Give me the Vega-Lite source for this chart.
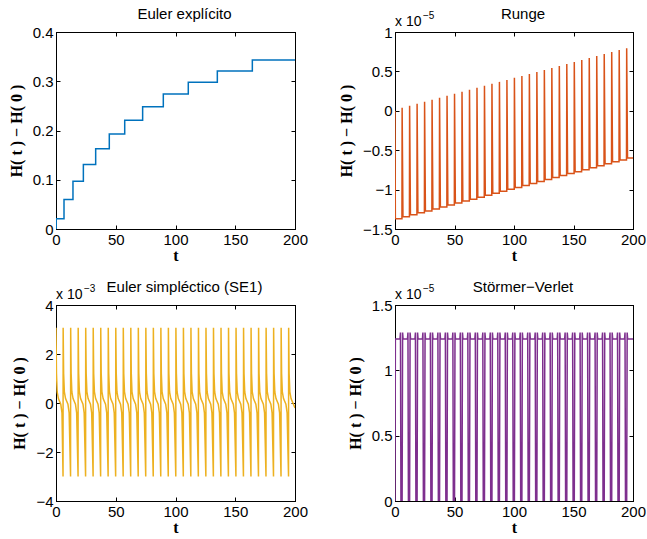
{
  "$schema": "https://vega.github.io/schema/vega-lite/v6.json",
  "padding": {"left": 7, "top": 6, "right": 5, "bottom": 5},
  "datasets": {
    "euler": [{"t":0,"v":0},{"t":0.2,"v":0.021},{"t":6.7,"v":0.06},{"t":14.2,"v":0.097},{"t":22.9,"v":0.131},{"t":33.2,"v":0.163},{"t":44.6,"v":0.193},{"t":57.5,"v":0.221},{"t":72.5,"v":0.248},{"t":89.8,"v":0.274},{"t":110.7,"v":0.298},{"t":135,"v":0.321},{"t":164.3,"v":0.343},{"t":200,"v":0.343}],
    "runge": [{"t":0,"v":0},{"t":0.3,"v":-1.37},
      {"t":5.84,"v":-1.37},{"t":5.99,"v":0.04},{"t":6.69,"v":-1.345},
      {"t":12.13,"v":-1.345},{"t":12.28,"v":0.065},{"t":12.98,"v":-1.32},
      {"t":18.42,"v":-1.32},{"t":18.57,"v":0.09},{"t":19.27,"v":-1.295},
      {"t":24.71,"v":-1.295},{"t":24.86,"v":0.116},{"t":25.56,"v":-1.27},
      {"t":31.0,"v":-1.27},{"t":31.15,"v":0.141},{"t":31.85,"v":-1.246},
      {"t":37.29,"v":-1.246},{"t":37.44,"v":0.166},{"t":38.14,"v":-1.221},
      {"t":43.58,"v":-1.221},{"t":43.73,"v":0.191},{"t":44.43,"v":-1.196},
      {"t":49.87,"v":-1.196},{"t":50.02,"v":0.216},{"t":50.72,"v":-1.171},
      {"t":56.16,"v":-1.171},{"t":56.31,"v":0.241},{"t":57.01,"v":-1.146},
      {"t":62.45,"v":-1.146},{"t":62.6,"v":0.267},{"t":63.3,"v":-1.121},
      {"t":68.74,"v":-1.121},{"t":68.89,"v":0.292},{"t":69.59,"v":-1.096},
      {"t":75.03,"v":-1.096},{"t":75.18,"v":0.317},{"t":75.88,"v":-1.071},
      {"t":81.32,"v":-1.071},{"t":81.47,"v":0.342},{"t":82.17,"v":-1.046},
      {"t":87.61,"v":-1.046},{"t":87.76,"v":0.367},{"t":88.46,"v":-1.021},
      {"t":93.9,"v":-1.021},{"t":94.05,"v":0.392},{"t":94.75,"v":-0.997},
      {"t":100.19,"v":-0.997},{"t":100.34,"v":0.418},{"t":101.04,"v":-0.972},
      {"t":106.48,"v":-0.972},{"t":106.63,"v":0.443},{"t":107.33,"v":-0.947},
      {"t":112.77,"v":-0.947},{"t":112.92,"v":0.468},{"t":113.62,"v":-0.922},
      {"t":119.06,"v":-0.922},{"t":119.21,"v":0.493},{"t":119.91,"v":-0.897},
      {"t":125.35,"v":-0.897},{"t":125.5,"v":0.518},{"t":126.2,"v":-0.872},
      {"t":131.64,"v":-0.872},{"t":131.79,"v":0.543},{"t":132.49,"v":-0.847},
      {"t":137.93,"v":-0.847},{"t":138.08,"v":0.569},{"t":138.78,"v":-0.822},
      {"t":144.22,"v":-0.822},{"t":144.37,"v":0.594},{"t":145.07,"v":-0.797},
      {"t":150.51,"v":-0.797},{"t":150.66,"v":0.619},{"t":151.36,"v":-0.772},
      {"t":156.8,"v":-0.772},{"t":156.95,"v":0.644},{"t":157.65,"v":-0.748},
      {"t":163.09,"v":-0.748},{"t":163.24,"v":0.669},{"t":163.94,"v":-0.723},
      {"t":169.38,"v":-0.723},{"t":169.53,"v":0.694},{"t":170.23,"v":-0.698},
      {"t":175.67,"v":-0.698},{"t":175.82,"v":0.72},{"t":176.52,"v":-0.673},
      {"t":181.96,"v":-0.673},{"t":182.11,"v":0.745},{"t":182.81,"v":-0.648},
      {"t":188.25,"v":-0.648},{"t":188.4,"v":0.77},{"t":189.1,"v":-0.623},
      {"t":194.54,"v":-0.623},{"t":194.69,"v":0.795},{"t":195.39,"v":-0.598},
      {"t":200,"v":-0.598}],
    "se1": [{"t":0,"v":3.07},{"t":0.4,"v":1.2},{"t":1,"v":0.45},{"t":2,"v":0.18},{"t":4,"v":-0.05},{"t":5,"v":-0.4},
      {"t":5.89,"v":-3},{"t":5.99,"v":3.07},{"t":6.39,"v":1.2},{"t":6.99,"v":0.45},{"t":7.99,"v":0.18},{"t":9.99,"v":-0.05},{"t":10.99,"v":-0.4},
      {"t":12.18,"v":-3},{"t":12.28,"v":3.07},{"t":12.68,"v":1.2},{"t":13.28,"v":0.45},{"t":14.28,"v":0.18},{"t":16.28,"v":-0.05},{"t":17.28,"v":-0.4},
      {"t":18.47,"v":-3},{"t":18.57,"v":3.07},{"t":18.97,"v":1.2},{"t":19.57,"v":0.45},{"t":20.57,"v":0.18},{"t":22.57,"v":-0.05},{"t":23.57,"v":-0.4},
      {"t":24.76,"v":-3},{"t":24.86,"v":3.07},{"t":25.26,"v":1.2},{"t":25.86,"v":0.45},{"t":26.86,"v":0.18},{"t":28.86,"v":-0.05},{"t":29.86,"v":-0.4},
      {"t":31.05,"v":-3},{"t":31.15,"v":3.07},{"t":31.55,"v":1.2},{"t":32.15,"v":0.45},{"t":33.15,"v":0.18},{"t":35.15,"v":-0.05},{"t":36.15,"v":-0.4},
      {"t":37.34,"v":-3},{"t":37.44,"v":3.07},{"t":37.84,"v":1.2},{"t":38.44,"v":0.45},{"t":39.44,"v":0.18},{"t":41.44,"v":-0.05},{"t":42.44,"v":-0.4},
      {"t":43.63,"v":-3},{"t":43.73,"v":3.07},{"t":44.13,"v":1.2},{"t":44.73,"v":0.45},{"t":45.73,"v":0.18},{"t":47.73,"v":-0.05},{"t":48.73,"v":-0.4},
      {"t":49.92,"v":-3},{"t":50.02,"v":3.07},{"t":50.42,"v":1.2},{"t":51.02,"v":0.45},{"t":52.02,"v":0.18},{"t":54.02,"v":-0.05},{"t":55.02,"v":-0.4},
      {"t":56.21,"v":-3},{"t":56.31,"v":3.07},{"t":56.71,"v":1.2},{"t":57.31,"v":0.45},{"t":58.31,"v":0.18},{"t":60.31,"v":-0.05},{"t":61.31,"v":-0.4},
      {"t":62.5,"v":-3},{"t":62.6,"v":3.07},{"t":63.0,"v":1.2},{"t":63.6,"v":0.45},{"t":64.6,"v":0.18},{"t":66.6,"v":-0.05},{"t":67.6,"v":-0.4},
      {"t":68.79,"v":-3},{"t":68.89,"v":3.07},{"t":69.29,"v":1.2},{"t":69.89,"v":0.45},{"t":70.89,"v":0.18},{"t":72.89,"v":-0.05},{"t":73.89,"v":-0.4},
      {"t":75.08,"v":-3},{"t":75.18,"v":3.07},{"t":75.58,"v":1.2},{"t":76.18,"v":0.45},{"t":77.18,"v":0.18},{"t":79.18,"v":-0.05},{"t":80.18,"v":-0.4},
      {"t":81.37,"v":-3},{"t":81.47,"v":3.07},{"t":81.87,"v":1.2},{"t":82.47,"v":0.45},{"t":83.47,"v":0.18},{"t":85.47,"v":-0.05},{"t":86.47,"v":-0.4},
      {"t":87.66,"v":-3},{"t":87.76,"v":3.07},{"t":88.16,"v":1.2},{"t":88.76,"v":0.45},{"t":89.76,"v":0.18},{"t":91.76,"v":-0.05},{"t":92.76,"v":-0.4},
      {"t":93.95,"v":-3},{"t":94.05,"v":3.07},{"t":94.45,"v":1.2},{"t":95.05,"v":0.45},{"t":96.05,"v":0.18},{"t":98.05,"v":-0.05},{"t":99.05,"v":-0.4},
      {"t":100.24,"v":-3},{"t":100.34,"v":3.07},{"t":100.74,"v":1.2},{"t":101.34,"v":0.45},{"t":102.34,"v":0.18},{"t":104.34,"v":-0.05},{"t":105.34,"v":-0.4},
      {"t":106.53,"v":-3},{"t":106.63,"v":3.07},{"t":107.03,"v":1.2},{"t":107.63,"v":0.45},{"t":108.63,"v":0.18},{"t":110.63,"v":-0.05},{"t":111.63,"v":-0.4},
      {"t":112.82,"v":-3},{"t":112.92,"v":3.07},{"t":113.32,"v":1.2},{"t":113.92,"v":0.45},{"t":114.92,"v":0.18},{"t":116.92,"v":-0.05},{"t":117.92,"v":-0.4},
      {"t":119.11,"v":-3},{"t":119.21,"v":3.07},{"t":119.61,"v":1.2},{"t":120.21,"v":0.45},{"t":121.21,"v":0.18},{"t":123.21,"v":-0.05},{"t":124.21,"v":-0.4},
      {"t":125.4,"v":-3},{"t":125.5,"v":3.07},{"t":125.9,"v":1.2},{"t":126.5,"v":0.45},{"t":127.5,"v":0.18},{"t":129.5,"v":-0.05},{"t":130.5,"v":-0.4},
      {"t":131.69,"v":-3},{"t":131.79,"v":3.07},{"t":132.19,"v":1.2},{"t":132.79,"v":0.45},{"t":133.79,"v":0.18},{"t":135.79,"v":-0.05},{"t":136.79,"v":-0.4},
      {"t":137.98,"v":-3},{"t":138.08,"v":3.07},{"t":138.48,"v":1.2},{"t":139.08,"v":0.45},{"t":140.08,"v":0.18},{"t":142.08,"v":-0.05},{"t":143.08,"v":-0.4},
      {"t":144.27,"v":-3},{"t":144.37,"v":3.07},{"t":144.77,"v":1.2},{"t":145.37,"v":0.45},{"t":146.37,"v":0.18},{"t":148.37,"v":-0.05},{"t":149.37,"v":-0.4},
      {"t":150.56,"v":-3},{"t":150.66,"v":3.07},{"t":151.06,"v":1.2},{"t":151.66,"v":0.45},{"t":152.66,"v":0.18},{"t":154.66,"v":-0.05},{"t":155.66,"v":-0.4},
      {"t":156.85,"v":-3},{"t":156.95,"v":3.07},{"t":157.35,"v":1.2},{"t":157.95,"v":0.45},{"t":158.95,"v":0.18},{"t":160.95,"v":-0.05},{"t":161.95,"v":-0.4},
      {"t":163.14,"v":-3},{"t":163.24,"v":3.07},{"t":163.64,"v":1.2},{"t":164.24,"v":0.45},{"t":165.24,"v":0.18},{"t":167.24,"v":-0.05},{"t":168.24,"v":-0.4},
      {"t":169.43,"v":-3},{"t":169.53,"v":3.07},{"t":169.93,"v":1.2},{"t":170.53,"v":0.45},{"t":171.53,"v":0.18},{"t":173.53,"v":-0.05},{"t":174.53,"v":-0.4},
      {"t":175.72,"v":-3},{"t":175.82,"v":3.07},{"t":176.22,"v":1.2},{"t":176.82,"v":0.45},{"t":177.82,"v":0.18},{"t":179.82,"v":-0.05},{"t":180.82,"v":-0.4},
      {"t":182.01,"v":-3},{"t":182.11,"v":3.07},{"t":182.51,"v":1.2},{"t":183.11,"v":0.45},{"t":184.11,"v":0.18},{"t":186.11,"v":-0.05},{"t":187.11,"v":-0.4},
      {"t":188.3,"v":-3},{"t":188.4,"v":3.07},{"t":188.8,"v":1.2},{"t":189.4,"v":0.45},{"t":190.4,"v":0.18},{"t":192.4,"v":-0.05},{"t":193.4,"v":-0.4},
      {"t":194.59,"v":-3},{"t":194.69,"v":3.07},{"t":195.09,"v":1.2},{"t":195.69,"v":0.45},{"t":196.69,"v":0.18},{"t":198.69,"v":-0.05},{"t":200,"v":-0.2}],
    "sv": [{"t":0,"v":0},{"t":0.3,"v":1.24},
      {"t":4.19,"v":1.24},{"t":4.59,"v":1.29},{"t":4.99,"v":0},{"t":5.99,"v":0},{"t":6.39,"v":1.29},{"t":6.79,"v":1.24},
      {"t":10.48,"v":1.24},{"t":10.88,"v":1.29},{"t":11.28,"v":0},{"t":12.28,"v":0},{"t":12.68,"v":1.29},{"t":13.08,"v":1.24},
      {"t":16.77,"v":1.24},{"t":17.17,"v":1.29},{"t":17.57,"v":0},{"t":18.57,"v":0},{"t":18.97,"v":1.29},{"t":19.37,"v":1.24},
      {"t":23.06,"v":1.24},{"t":23.46,"v":1.29},{"t":23.86,"v":0},{"t":24.86,"v":0},{"t":25.26,"v":1.29},{"t":25.66,"v":1.24},
      {"t":29.35,"v":1.24},{"t":29.75,"v":1.29},{"t":30.15,"v":0},{"t":31.15,"v":0},{"t":31.55,"v":1.29},{"t":31.95,"v":1.24},
      {"t":35.64,"v":1.24},{"t":36.04,"v":1.29},{"t":36.44,"v":0},{"t":37.44,"v":0},{"t":37.84,"v":1.29},{"t":38.24,"v":1.24},
      {"t":41.93,"v":1.24},{"t":42.33,"v":1.29},{"t":42.73,"v":0},{"t":43.73,"v":0},{"t":44.13,"v":1.29},{"t":44.53,"v":1.24},
      {"t":48.22,"v":1.24},{"t":48.62,"v":1.29},{"t":49.02,"v":0},{"t":50.02,"v":0},{"t":50.42,"v":1.29},{"t":50.82,"v":1.24},
      {"t":54.51,"v":1.24},{"t":54.91,"v":1.29},{"t":55.31,"v":0},{"t":56.31,"v":0},{"t":56.71,"v":1.29},{"t":57.11,"v":1.24},
      {"t":60.8,"v":1.24},{"t":61.2,"v":1.29},{"t":61.6,"v":0},{"t":62.6,"v":0},{"t":63.0,"v":1.29},{"t":63.4,"v":1.24},
      {"t":67.09,"v":1.24},{"t":67.49,"v":1.29},{"t":67.89,"v":0},{"t":68.89,"v":0},{"t":69.29,"v":1.29},{"t":69.69,"v":1.24},
      {"t":73.38,"v":1.24},{"t":73.78,"v":1.29},{"t":74.18,"v":0},{"t":75.18,"v":0},{"t":75.58,"v":1.29},{"t":75.98,"v":1.24},
      {"t":79.67,"v":1.24},{"t":80.07,"v":1.29},{"t":80.47,"v":0},{"t":81.47,"v":0},{"t":81.87,"v":1.29},{"t":82.27,"v":1.24},
      {"t":85.96,"v":1.24},{"t":86.36,"v":1.29},{"t":86.76,"v":0},{"t":87.76,"v":0},{"t":88.16,"v":1.29},{"t":88.56,"v":1.24},
      {"t":92.25,"v":1.24},{"t":92.65,"v":1.29},{"t":93.05,"v":0},{"t":94.05,"v":0},{"t":94.45,"v":1.29},{"t":94.85,"v":1.24},
      {"t":98.54,"v":1.24},{"t":98.94,"v":1.29},{"t":99.34,"v":0},{"t":100.34,"v":0},{"t":100.74,"v":1.29},{"t":101.14,"v":1.24},
      {"t":104.83,"v":1.24},{"t":105.23,"v":1.29},{"t":105.63,"v":0},{"t":106.63,"v":0},{"t":107.03,"v":1.29},{"t":107.43,"v":1.24},
      {"t":111.12,"v":1.24},{"t":111.52,"v":1.29},{"t":111.92,"v":0},{"t":112.92,"v":0},{"t":113.32,"v":1.29},{"t":113.72,"v":1.24},
      {"t":117.41,"v":1.24},{"t":117.81,"v":1.29},{"t":118.21,"v":0},{"t":119.21,"v":0},{"t":119.61,"v":1.29},{"t":120.01,"v":1.24},
      {"t":123.7,"v":1.24},{"t":124.1,"v":1.29},{"t":124.5,"v":0},{"t":125.5,"v":0},{"t":125.9,"v":1.29},{"t":126.3,"v":1.24},
      {"t":129.99,"v":1.24},{"t":130.39,"v":1.29},{"t":130.79,"v":0},{"t":131.79,"v":0},{"t":132.19,"v":1.29},{"t":132.59,"v":1.24},
      {"t":136.28,"v":1.24},{"t":136.68,"v":1.29},{"t":137.08,"v":0},{"t":138.08,"v":0},{"t":138.48,"v":1.29},{"t":138.88,"v":1.24},
      {"t":142.57,"v":1.24},{"t":142.97,"v":1.29},{"t":143.37,"v":0},{"t":144.37,"v":0},{"t":144.77,"v":1.29},{"t":145.17,"v":1.24},
      {"t":148.86,"v":1.24},{"t":149.26,"v":1.29},{"t":149.66,"v":0},{"t":150.66,"v":0},{"t":151.06,"v":1.29},{"t":151.46,"v":1.24},
      {"t":155.15,"v":1.24},{"t":155.55,"v":1.29},{"t":155.95,"v":0},{"t":156.95,"v":0},{"t":157.35,"v":1.29},{"t":157.75,"v":1.24},
      {"t":161.44,"v":1.24},{"t":161.84,"v":1.29},{"t":162.24,"v":0},{"t":163.24,"v":0},{"t":163.64,"v":1.29},{"t":164.04,"v":1.24},
      {"t":167.73,"v":1.24},{"t":168.13,"v":1.29},{"t":168.53,"v":0},{"t":169.53,"v":0},{"t":169.93,"v":1.29},{"t":170.33,"v":1.24},
      {"t":174.02,"v":1.24},{"t":174.42,"v":1.29},{"t":174.82,"v":0},{"t":175.82,"v":0},{"t":176.22,"v":1.29},{"t":176.62,"v":1.24},
      {"t":180.31,"v":1.24},{"t":180.71,"v":1.29},{"t":181.11,"v":0},{"t":182.11,"v":0},{"t":182.51,"v":1.29},{"t":182.91,"v":1.24},
      {"t":186.6,"v":1.24},{"t":187.0,"v":1.29},{"t":187.4,"v":0},{"t":188.4,"v":0},{"t":188.8,"v":1.29},{"t":189.2,"v":1.24},
      {"t":192.89,"v":1.24},{"t":193.29,"v":1.29},{"t":193.69,"v":0},{"t":194.69,"v":0},{"t":195.09,"v":1.29},{"t":195.49,"v":1.24},
      {"t":200,"v":1.24}]
  },
  "columns": 2,
  "spacing": {"row": 76, "column": 100},
  "bounds": "flush",
  "concat": [
    {
      "width": 239, "height": 197,
      "data": {"name": "euler"},
      "layer": [
        {"mark": {"type": "line", "interpolate": "step-after", "color": "#0072BD", "strokeWidth": 1.5, "clip": true},
         "encoding": {
           "x": {"field": "t", "type": "quantitative", "scale": {"domain": [0, 200], "nice": false}, "axis": {"values": [0, 50, 100, 150, 200], "title": "t"}},
           "y": {"field": "v", "type": "quantitative", "scale": {"domain": [0, 0.4], "nice": false}, "axis": {"values": [0, 0.1, 0.2, 0.3, 0.4], "format": "~g", "title": "H( t ) − H( 0 )"}}
         }},
        {"mark": {"type": "line", "opacity": 0},
         "encoding": {
           "x": {"field": "t", "type": "quantitative", "axis": {"orient": "top", "values": [0, 50, 100, 150, 200], "labels": false, "title": null}},
           "y": {"field": "v", "type": "quantitative", "axis": {"orient": "right", "values": [0, 0.1, 0.2, 0.3, 0.4], "labels": false, "title": null}}
         }},
        {"data": {"values": [{}]},
         "mark": {"type": "text", "text": "Euler explícito", "align": "center", "baseline": "alphabetic", "dx": 9, "dy": -13, "fontSize": 15, "font": "Liberation Sans"},
         "encoding": {"x": {"datum": 100, "type": "quantitative", "axis": null}, "y": {"datum": 0.4, "type": "quantitative", "axis": null}}}
      ],
      "resolve": {"axis": {"x": "independent", "y": "independent"}}
    },
    {
      "width": 238, "height": 197,
      "data": {"name": "runge"},
      "layer": [
        {"mark": {"type": "line", "color": "#D95319", "strokeWidth": 1.5, "clip": true},
         "encoding": {
           "x": {"field": "t", "type": "quantitative", "scale": {"domain": [0, 200], "nice": false}, "axis": {"values": [0, 50, 100, 150, 200], "title": "t"}},
           "y": {"field": "v", "type": "quantitative", "scale": {"domain": [-1.5, 1], "nice": false, "zero": false}, "axis": {"values": [-1.5, -1, -0.5, 0, 0.5, 1], "format": "~g", "title": "H( t ) − H( 0 )"}}
         }},
        {"mark": {"type": "line", "opacity": 0},
         "encoding": {
           "x": {"field": "t", "type": "quantitative", "axis": {"orient": "top", "values": [0, 50, 100, 150, 200], "labels": false, "title": null}},
           "y": {"field": "v", "type": "quantitative", "axis": {"orient": "right", "values": [-1.5, -1, -0.5, 0, 0.5, 1], "labels": false, "title": null}}
         }},
        {"data": {"values": [{}]},
         "mark": {"type": "text", "text": "Runge", "align": "center", "baseline": "alphabetic", "dx": 9, "dy": -13, "fontSize": 15, "font": "Liberation Sans"},
         "encoding": {"x": {"datum": 100, "type": "quantitative", "axis": null}, "y": {"datum": 1, "type": "quantitative", "axis": null}}},
        {"data": {"values": [{}]},
         "mark": {"type": "text", "text": "x 10", "align": "left", "baseline": "alphabetic", "dy": -6, "fontSize": 14, "font": "Liberation Sans"},
         "encoding": {"x": {"datum": 0, "type": "quantitative", "axis": null}, "y": {"datum": 1, "type": "quantitative", "axis": null}}},
        {"data": {"values": [{}]},
         "mark": {"type": "text", "text": "−5", "align": "left", "baseline": "alphabetic", "dx": 28, "dy": -13, "fontSize": 10, "font": "Liberation Sans"},
         "encoding": {"x": {"datum": 0, "type": "quantitative", "axis": null}, "y": {"datum": 1, "type": "quantitative", "axis": null}}}
      ],
      "resolve": {"axis": {"x": "independent", "y": "independent"}}
    },
    {
      "width": 239, "height": 196,
      "data": {"name": "se1"},
      "layer": [
        {"mark": {"type": "line", "color": "#EDB120", "strokeWidth": 1.5, "clip": true},
         "encoding": {
           "x": {"field": "t", "type": "quantitative", "scale": {"domain": [0, 200], "nice": false}, "axis": {"values": [0, 50, 100, 150, 200], "title": "t"}},
           "y": {"field": "v", "type": "quantitative", "scale": {"domain": [-4, 4], "nice": false}, "axis": {"values": [-4, -2, 0, 2, 4], "format": "~g", "title": "H( t ) − H( 0 )"}}
         }},
        {"mark": {"type": "line", "opacity": 0},
         "encoding": {
           "x": {"field": "t", "type": "quantitative", "axis": {"orient": "top", "values": [0, 50, 100, 150, 200], "labels": false, "title": null}},
           "y": {"field": "v", "type": "quantitative", "axis": {"orient": "right", "values": [-4, -2, 0, 2, 4], "labels": false, "title": null}}
         }},
        {"data": {"values": [{}]},
         "mark": {"type": "text", "text": "Euler simpléctico (SE1)", "align": "center", "baseline": "alphabetic", "dx": 9, "dy": -13, "fontSize": 15, "font": "Liberation Sans"},
         "encoding": {"x": {"datum": 100, "type": "quantitative", "axis": null}, "y": {"datum": 4, "type": "quantitative", "axis": null}}},
        {"data": {"values": [{}]},
         "mark": {"type": "text", "text": "x 10", "align": "left", "baseline": "alphabetic", "dy": -6, "fontSize": 14, "font": "Liberation Sans"},
         "encoding": {"x": {"datum": 0, "type": "quantitative", "axis": null}, "y": {"datum": 4, "type": "quantitative", "axis": null}}},
        {"data": {"values": [{}]},
         "mark": {"type": "text", "text": "−3", "align": "left", "baseline": "alphabetic", "dx": 28, "dy": -13, "fontSize": 10, "font": "Liberation Sans"},
         "encoding": {"x": {"datum": 0, "type": "quantitative", "axis": null}, "y": {"datum": 4, "type": "quantitative", "axis": null}}}
      ],
      "resolve": {"axis": {"x": "independent", "y": "independent"}}
    },
    {
      "width": 238, "height": 196,
      "data": {"name": "sv"},
      "layer": [
        {"mark": {"type": "line", "color": "#7E2F8E", "strokeWidth": 1.5, "clip": true},
         "encoding": {
           "x": {"field": "t", "type": "quantitative", "scale": {"domain": [0, 200], "nice": false}, "axis": {"values": [0, 50, 100, 150, 200], "title": "t"}},
           "y": {"field": "v", "type": "quantitative", "scale": {"domain": [0, 1.5], "nice": false}, "axis": {"values": [0, 0.5, 1, 1.5], "format": "~g", "title": "H( t ) − H( 0 )"}}
         }},
        {"mark": {"type": "line", "opacity": 0},
         "encoding": {
           "x": {"field": "t", "type": "quantitative", "axis": {"orient": "top", "values": [0, 50, 100, 150, 200], "labels": false, "title": null}},
           "y": {"field": "v", "type": "quantitative", "axis": {"orient": "right", "values": [0, 0.5, 1, 1.5], "labels": false, "title": null}}
         }},
        {"data": {"values": [{}]},
         "mark": {"type": "text", "text": "Störmer−Verlet", "align": "center", "baseline": "alphabetic", "dx": 9, "dy": -13, "fontSize": 15, "font": "Liberation Sans"},
         "encoding": {"x": {"datum": 100, "type": "quantitative", "axis": null}, "y": {"datum": 1.5, "type": "quantitative", "axis": null}}},
        {"data": {"values": [{}]},
         "mark": {"type": "text", "text": "x 10", "align": "left", "baseline": "alphabetic", "dy": -6, "fontSize": 14, "font": "Liberation Sans"},
         "encoding": {"x": {"datum": 0, "type": "quantitative", "axis": null}, "y": {"datum": 1.5, "type": "quantitative", "axis": null}}},
        {"data": {"values": [{}]},
         "mark": {"type": "text", "text": "−5", "align": "left", "baseline": "alphabetic", "dx": 28, "dy": -13, "fontSize": 10, "font": "Liberation Sans"},
         "encoding": {"x": {"datum": 0, "type": "quantitative", "axis": null}, "y": {"datum": 1.5, "type": "quantitative", "axis": null}}}
      ],
      "resolve": {"axis": {"x": "independent", "y": "independent"}}
    }
  ],
  "config": {
    "view": {"stroke": "#000000", "strokeWidth": 1},
    "font": "Liberation Sans",
    "axis": {
      "labelFont": "Liberation Sans", "labelFontSize": 15, "labelColor": "#000000",
      "tickColor": "#000000", "tickSize": -4, "tickWidth": 1, "domainColor": "#000000",
      "grid": false, "labelFlush": false, "labelOverlap": false, "labelPadding": 7,
      "titleFont": "Liberation Serif", "titleFontWeight": "bold", "titleFontSize": 16, "titleColor": "#000000"
    },
    "axisY": {"titlePadding": 8},
    "axisX": {"titlePadding": 0},
    "text": {"color": "#000000"}
  }
}
